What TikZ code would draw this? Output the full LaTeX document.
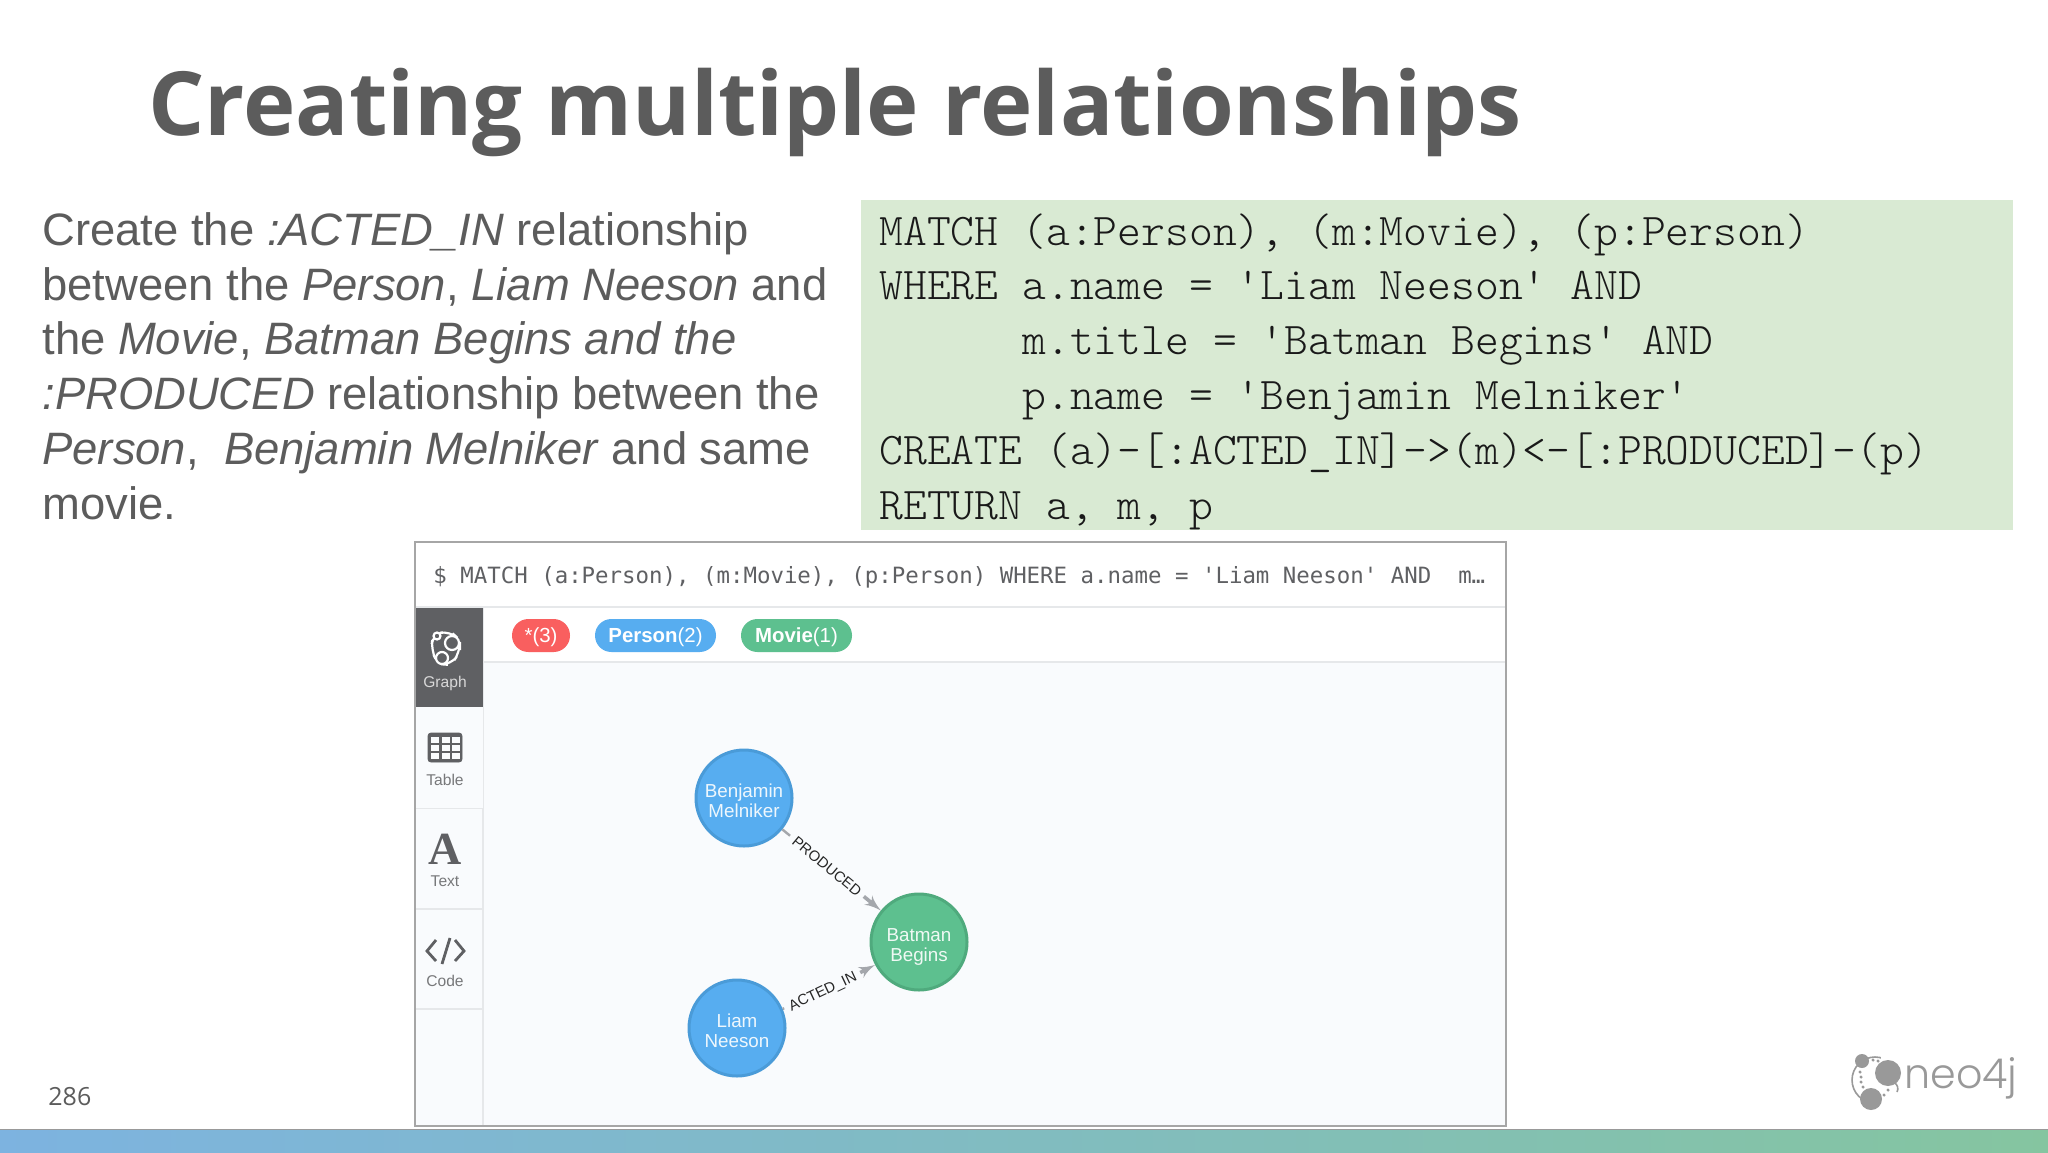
\documentclass[tikz,border=0pt]{standalone}
\usepackage{fontspec}
\setmainfont{Liberation Sans}
\setmonofont{Latin Modern Mono Light}
\newfontfamily\titlefont{Open Sans}
\newfontfamily\queryfont{DejaVu Sans Mono}
\newfontfamily\iconfont{Liberation Serif}
\newfontfamily\logofont{Poppins Light}
\usepackage{xcolor}
\usetikzlibrary{shapes,arrows}
\definecolor{slidegray}{HTML}{5C5C5C}
\definecolor{codegreen}{HTML}{D9EAD3}
\definecolor{panelbg}{HTML}{F9FBFD}
\definecolor{panelline}{HTML}{E6E8EA}
\definecolor{personblue}{HTML}{57ADF0}
\definecolor{personedge}{HTML}{4A9BD8}
\definecolor{moviegreen}{HTML}{5DC08F}
\definecolor{movieedge}{HTML}{4FAA7D}
\definecolor{allred}{HTML}{F95F5F}
\definecolor{arrowgray}{HTML}{A4A7AC}
\definecolor{icongray}{HTML}{5F6063}
\definecolor{logogray}{HTML}{999999}
\definecolor{barleft}{HTML}{7DB3E0}
\definecolor{barright}{HTML}{85C5A0}
\tikzstyle{pill} = [rectangle, rounded corners=8.2pt, inner sep=0pt, minimum height=16.5pt, text=white, text height=9.5pt, font=\fontsize{10.2}{12}\selectfont]
\tikzstyle{person} = [circle, draw=personedge, fill=personblue, line width=1.5pt, minimum size=48pt, inner sep=0pt, align=center, text=white!90!personblue, text height=19pt, text depth=0pt, font=\fontsize{9.4}{9.6}\selectfont]
\tikzstyle{movie} = [person, draw=movieedge, fill=moviegreen, text=white!90!moviegreen]
\tikzstyle{rellabel} = [inner sep=2.5pt, font=\fontsize{7.4}{9}\selectfont, text=black!85]
\tikzstyle{tablabel} = [text=icongray!85, font=\fontsize{7.8}{9}\selectfont]
\tikzstyle{stub} = [draw=arrowgray, line width=1.2pt]
\tikzstyle{line} = [draw=arrowgray, line width=1.8pt, -latex']
\tikzstyle{logodot} = [fill=logogray]
\newcommand{\codeindent}{\hspace*{6\fontcharwd\font`M}}
\begin{document}
\begin{tikzpicture}[x=0.5pt,y=-0.5pt]
\useasboundingbox (0,0) rectangle (2048,1152);
\fill [white] (0,0) rectangle (2048,1152);
\node [anchor=base west, inner sep=0pt, text=slidegray, font=\titlefont\bfseries\fontsize{44.3}{50}\selectfont] (title) at (148,135) {Creating multiple relationships};
\node [anchor=north west, inner sep=0pt, align=left, text=slidegray, font=\fontsize{22.7}{27.4}\selectfont] (intro) at (42,212) {Create the \textit{:ACTED\_IN} relationship\\
between the \textit{Person}, \textit{Liam Neeson} and\\
the \textit{Movie}, \textit{Batman Begins and the}\\
\textit{:PRODUCED} relationship between the\\
\textit{Person}, \ \textit{Benjamin Melniker} and same\\
movie.};
\fill [codegreen] (861,200) rectangle (2013,530);
\node [anchor=north west, inner sep=0pt, align=left, text=black!90, font=\ttfamily\fontsize{22.7}{27.4}\selectfont] (query) at (879,213) {MATCH (a:Person), (m:Movie), (p:Person)\\
WHERE a.name = 'Liam Neeson' AND\\
\codeindent m.title = 'Batman Begins' AND\\
\codeindent p.name = 'Benjamin Melniker'\\
CREATE (a)-[:ACTED\_IN]->(m)<-[:PRODUCED]-(p)\\
RETURN a, m, p};
\fill [panelbg] (415,542) rectangle (1506,1126);
\fill [white] (415,542) rectangle (1506,662);
\draw [panelline, line width=1pt] (415,607) -- (1506,607);
\draw [panelline, line width=1pt] (483,662) -- (1506,662);
\draw [panelline, line width=1pt] (483,607) -- (483,1126);
\draw [panelline, line width=1pt] (415,808) -- (483,808);
\draw [panelline, line width=1pt] (415,909) -- (483,909);
\draw [panelline, line width=1pt] (415,1009) -- (483,1009);
\fill [panelbg] (416,707) rectangle (482.5,807.5);
\fill [icongray] (416,608) rectangle (483,707);
\draw [black!35, line width=1pt] (415,542) rectangle (1506,1126);
\node [anchor=west, inner sep=0pt, text=icongray, font=\queryfont\fontsize{11.2}{13}\selectfont] (command) at (433,577) {\$ MATCH (a:Person), (m:Movie), (p:Person) WHERE a.name = 'Liam Neeson' AND \ m…};
\draw [white, line width=1.1pt, rounded corners=5pt] (433,634) -- (450,631) -- (460,640) -- (460,652) -- (451,665) -- (438,664) -- (431,650) -- cycle;
\draw [white, fill=icongray, line width=1.1pt] (452,643) circle (7);
\draw [white, fill=icongray, line width=1.1pt] (442,658) circle (6);
\draw [white, fill=icongray, line width=1.1pt] (437,636) circle (3.5);
\node [tablabel, text=white!85!black] (graph-tab) at (445,683) {Graph};
\draw [icongray, fill=icongray, rounded corners=1.5pt] (428,733) rectangle (462,762);
\foreach \gx in {431,441.5,452} \foreach \gy in {737,745,753} \fill [panelbg] (\gx,\gy) rectangle ++(8,6);
\node [tablabel] (table-tab) at (445,780) {Table};
\node [text=icongray, inner sep=0pt, font=\iconfont\bfseries\fontsize{23}{25}\selectfont] (text-icon) at (445,849) {A};
\node [tablabel] (text-tab) at (445,881) {Text};
\draw [icongray, line width=1.4pt] (436,940) -- (427,951) -- (436,961);
\draw [icongray, line width=1.4pt] (455,940) -- (464,951) -- (455,961);
\draw [icongray, line width=1.4pt] (450,938) -- (442,964);
\node [tablabel] (code-tab) at (445,981) {Code};
\node [pill, fill=allred, minimum width=29pt] (all-pill) at (541,635.5) {*(3)};
\node [pill, fill=personblue, minimum width=60.5pt] (person-pill) at (655.5,635.5) {\textbf{Person}(2)};
\node [pill, fill=moviegreen, minimum width=55.5pt] (movie-pill) at (796.5,635.5) {\textbf{Movie}(1)};
\node [person] (benjamin) at (744,798) {Benjamin\\Melniker};
\node [movie] (batman) at (919,942) {Batman\\Begins};
\node [person] (liam) at (737,1028) {Liam\\Neeson};
\node [rellabel, rotate=-39.5] (produced) at (827,866) {PRODUCED};
\node [rellabel, rotate=25.3] (acted-in) at (823,992) {ACTED\_IN};
\path [stub] (benjamin) -- (produced);
\path [line] (produced) -- (batman);
\path [stub] (liam) -- (acted-in);
\path [line] (acted-in) -- (batman);
\node [anchor=west, inner sep=0pt, text=slidegray, font=\titlefont\fontsize{12.5}{14}\selectfont] (page) at (48,1097) {286};
\draw [logogray, line width=0.8pt] (1875,1080) circle (23);
\fill [white] (1881,1052) rectangle (1900,1110);
\draw [logogray, line width=0.8pt] (1897,1092) arc (28:-60:7 and 7);
\fill [logodot] (1862,1061) circle (7);
\fill [logodot] (1888,1073) circle (13);
\fill [logodot] (1871,1099) circle (11);
\fill [logodot] (1873,1060) circle (1.7);
\fill [logodot] (1878,1061) circle (1.7);
\fill [logodot] (1860,1072) circle (1.7);
\fill [logodot] (1861,1077) circle (1.7);
\fill [logodot] (1861,1082) circle (1.7);
\fill [logodot] (1863,1087) circle (1.7);
\fill [logodot] (1884,1095) circle (1.7);
\fill [logodot] (1888,1090) circle (1.7);
\node [anchor=base west, inner sep=0pt, text=logogray, font=\logofont\fontsize{20.6}{26}\selectfont] (logo) at (1904,1088) {neo4j};
\shade [left color=barleft, right color=barright] (0,1130) rectangle (2048,1152);
\draw [black!40, line width=0.7pt] (0,1129.5) -- (2048,1129.5);
\end{tikzpicture}
\end{document}
